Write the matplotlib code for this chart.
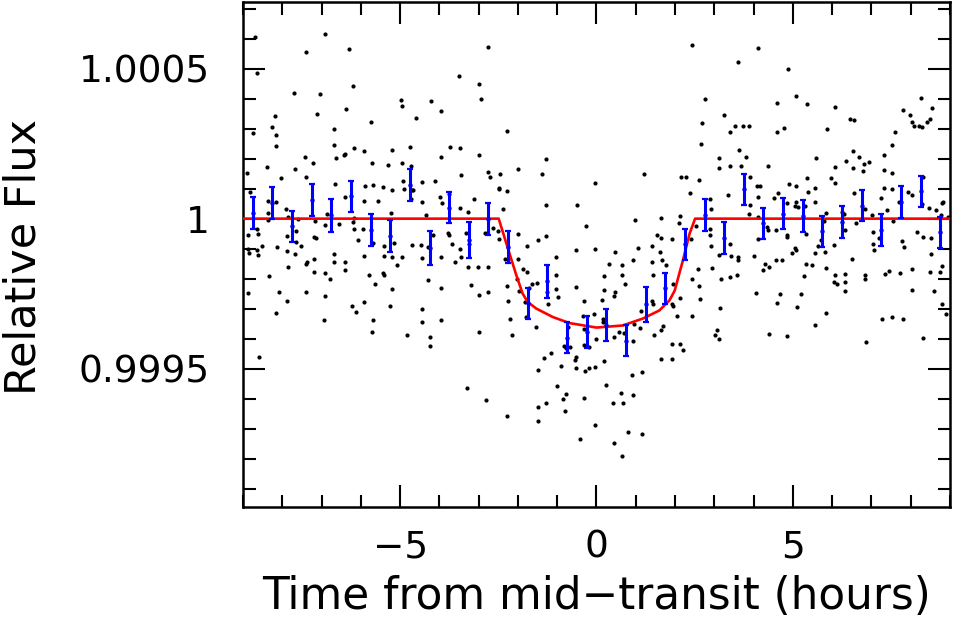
import numpy as np
import matplotlib
matplotlib.use("Agg")
import matplotlib.pyplot as plt
from matplotlib.ticker import MultipleLocator, FuncFormatter

# individual points: (time from mid-transit [h], relative flux - 1 [ppm])
pts_pre_high = [(-8.69,605),(-8.64,485),(-6.90,616),(-7.40,555),(-6.29,564),(-7.71,420),(-7.05,416),(-6.19,442),
    (-8.19,341),(-8.25,304),(-8.15,278),(-8.74,285),(-8.17,242),(-7.11,349),(-6.39,365),(-6.69,299),(-5.74,322),
    (-4.97,395),(-4.94,374),(-4.60,335),(-4.22,392),(-3.96,360),(-3.50,476),(-6.69,244),(-6.62,201),(-6.43,213),
    (-6.40,215),(-6.18,234),(-5.92,225),(-7.42,207),(-7.21,185),(-7.39,140),(-8.90,151),(-8.40,172),(-8.02,135),
    (-7.67,167),(-5.71,185),(-5.31,179),(-5.21,228),(-4.95,187),(-4.76,238),(-4.72,177),(-4.45,122),(-4.11,127),
    (-3.96,204),(-3.74,239),(-3.47,234),(-3.44,145),(-8.83,90),(-8.37,58),(-8.16,57),(-6.66,115),(-6.40,71),
    (-5.92,60),(-5.90,110),(-5.68,113),(-5.57,58),(-5.43,107),(-5.21,97),(-4.93,125),(-4.90,98),(-4.73,64),
    (-4.71,95),(-4.67,94),(-4.45,57),(-4.33,12),(-3.99,72),(-3.94,52),(-3.75,82),(-3.48,37),(-3.26,23),(-8.37,20),
    (-8.36,-6),(-7.91,31),(-7.86,4),(-7.60,0),(-6.87,15),(-6.18,2),(-5.22,20),(-7.17,-7),(-6.90,-22),(-6.55,-18),
    (-6.19,-12),(-6.18,-33),(-5.95,-33),(-7.89,-57),(-7.66,-42),(-7.66,-77),(-7.53,-90),(-7.18,-62),(-7.15,-66),
    (-6.07,-72),(-5.70,-80),(-5.41,-91),(-5.15,-80),(-4.71,-89),(-4.48,-89),(-4.17,-53),(-3.79,-47),(-3.75,-53),
    (-3.67,-85),(-3.47,-100),(-3.33,-47),(-3.25,-83),(-8.86,-56),(-8.63,-52),(-8.64,-36),(-8.51,-92),(-8.14,-94),
    (-8.86,-100),(-8.65,-103),(-3.96,-129),(-3.46,-128),(-4.28,-94)]

pts_pre_low = [(-8.85,-115),(-8.63,-121),(-7.88,-109),(-7.68,-117),(-6.68,-119),(-5.92,-126),(-5.42,-125),
    (-5.20,-127),(-4.94,-129),(-4.45,-130),(-3.61,-143),(-3.26,-161),(-3.02,-161),(-7.85,-161),(-7.39,-150),
    (-7.36,-146),(-7.18,-135),(-6.68,-146),(-6.41,-146),(-6.40,-170),(-7.18,-179),(-6.90,-180),(-6.78,-201),
    (-5.80,-187),(-5.43,-180),(-5.42,-189),(-5.09,-153),(-8.35,-191),(-8.86,-249),(-8.08,-245),(-7.87,-273),
    (-7.39,-245),(-6.90,-258),(-5.64,-217),(-5.21,-233),(-4.28,-203),(-3.96,-230),(-3.19,-222),(-2.99,-255),
    (-8.15,-313),(-6.93,-338),(-6.23,-290),(-6.12,-310),(-5.91,-279),(-5.70,-339),(-5.71,-379),(-5.25,-291),
    (-4.82,-387),(-4.43,-300),(-4.45,-343),(-4.23,-396),(-4.24,-426),(-3.96,-339),(-2.99,-378),(-8.58,-461),
    (-3.29,-563)]

pts_mid_high = [(-2.76,571),(-2.98,448),(-2.95,400),(-2.28,292),(-2.98,212),(-2.77,154),(-2.70,139),(-2.46,150),
    (-2.49,102),(-2.49,98),(-2.27,91),(-1.99,165),(-1.39,149),(-1.29,200),(-3.13,64),(-2.38,33),(-1.29,45),
    (-0.50,47),(-0.04,118),(-0.26,-25),(1.22,148),(2.42,579),(2.14,139),(2.27,139),(2.38,87),(1.65,3),(2.13,10),
    (2.10,-14),(0.97,-4),(-2.84,-47),(-2.63,-31),(-2.52,-42),(-2.49,-69),(-1.99,-52),(-1.29,-57),(-1.49,-72),
    (-1.77,-92),(-0.53,-103),(-0.04,-101),(0.48,-111),(1.06,-99),(1.42,-92),(1.55,-53),(1.65,-66),(1.92,-67),
    (2.41,-68),(2.54,-23)]

pts_mid_low = [(-2.77,-161),(-2.77,-245),(-2.32,-133),(-1.99,-133),(-1.88,-167),(-1.77,-178),(-2.27,-226),
    (-2.02,-200),(-1.98,-241),(-1.72,-230),(-1.65,-217),(-1.51,-216),(-1.83,-278),(-2.25,-275),(-1.79,-328),
    (-2.21,-333),(-1.54,-361),(-2.15,-389),(-1.02,-129),(-1.02,-189),(-1.02,-233),(-0.99,-261),(-1.26,-245),
    (-1.23,-283),(-0.53,-228),(-0.32,-276),(0.31,-150),(0.66,-153),(0.19,-191),(0.66,-188),(0.73,-217),
    (0.18,-237),(0.46,-246),(0.45,-258),(0.14,-272),(0.93,-137),(1.41,-145),(1.62,-111),(1.67,-137),(1.78,-155),
    (1.43,-189),(2.42,-202),(2.59,-167),(2.62,-225),(2.63,-268),(1.96,-217),(1.91,-283),(1.94,-290),(2.13,-263),
    (2.04,-326),(2.42,-325),(1.42,-275),(1.44,-283),(1.14,-308),(0.95,-352),(1.12,-363),(1.70,-357),(1.65,-370),
    (1.46,-387),(1.93,-417),(2.13,-419),(2.21,-437),(1.65,-468),(1.93,-468),(0.69,-381),(0.57,-378),(0.45,-395),
    (0.94,-408),(0.91,-521),(1.15,-512),(0.16,-333),(0.17,-345),(-0.07,-317),(-0.35,-326),(-0.31,-367),
    (-0.73,-361),(-0.82,-426),(-0.77,-430),(-0.67,-428),(-0.31,-422),(-0.20,-428),(-0.01,-400),(-0.52,-461),
    (-0.56,-472),(-0.53,-498),(-0.30,-508),(-0.20,-498),(-0.04,-496),(0.18,-476),(-0.90,-490),(-1.17,-448),
    (-1.33,-465),(-1.50,-506),(-1.01,-559),(-0.78,-583),(-0.85,-602),(-1.29,-613),(-1.50,-629),(-0.80,-641),
    (-1.50,-673),(-0.31,-599),(0.24,-553),(0.63,-580),(0.43,-616),(0.67,-616),(0.94,-589),(-0.04,-687),
    (-0.41,-733),(0.80,-711),(1.17,-719),(0.45,-748),(0.66,-792),(-2.27,-659),(-2.81,-606)]

pts_post_high = [(4.10,568),(3.61,522),(4.87,499),(2.75,398),(5.08,409),(5.35,381),(4.59,385),(6.06,372),
    (2.69,318),(3.25,347),(3.40,289),(3.52,308),(3.73,309),(3.89,308),(4.60,290),(4.78,303),(5.88,299),(6.46,333),
    (6.56,329),(7.80,362),(7.97,344),(8.26,403),(8.53,368),(8.49,332),(8.41,322),(8.22,308),(8.29,305),(8.02,321),
    (8.09,308),(7.60,290),(7.52,245),(7.31,212),(6.54,224),(6.68,206),(2.66,250),(3.63,230),(3.80,207),(3.11,201),
    (3.11,169),(3.40,175),(3.68,175),(4.37,177),(5.59,201),(6.07,172),(6.36,192),(6.54,170),(6.79,159),(6.82,183),
    (6.94,188),(7.31,163),(7.52,152),(2.62,128),(3.36,79),(3.91,139),(4.09,110),(4.17,110),(4.10,72),(4.61,85),
    (4.51,69),(4.89,115),(5.08,109),(5.35,135),(5.39,89),(5.57,103),(5.97,136),(6.07,120),(6.55,85),(7.31,102),
    (7.52,99),(7.94,90),(8.03,79),(8.30,139),(8.29,48),(8.47,37),(8.64,30),(8.79,53),(8.82,57),(8.94,5),(8.78,11),
    (7.71,55),(7.24,70),(2.89,64),(2.91,31),(3.90,44),(4.10,5),(3.88,14),(4.34,-29),(4.57,-37),(4.37,-39),
    (4.84,53),(5.14,38),(5.08,55),(5.06,42),(5.32,42),(5.56,55),(5.85,20),(5.78,-7),(6.24,21),(6.29,15),
    (6.61,-13),(6.83,33),(7.02,11),(7.39,30),(7.55,-8),(2.90,-33),(2.89,-56),(2.91,-91),(3.40,-86),(4.11,-69),
    (4.85,-55),(4.85,-61),(5.33,-50),(5.72,-72),(6.04,-89),(6.33,-39),(7.03,-45),(7.04,-83),(7.18,-63),
    (7.79,-76),(7.83,-96),(8.15,-45),(8.30,-60),(8.52,-65),(5.63,-91),(5.06,-98)]

pts_post_low = [(2.93,-165),(3.12,-121),(3.43,-125),(3.61,-127),(3.61,-138),(4.00,-125),(4.99,-115),(5.07,-106),
    (5.57,-116),(5.81,-111),(6.51,-136),(7.06,-106),(8.52,-117),(3.18,-201),(3.40,-193),(3.57,-189),(4.23,-172),
    (4.29,-150),(4.38,-162),(4.58,-138),(4.72,-138),(5.28,-190),(5.34,-152),(5.49,-156),(5.84,-166),(6.06,-187),
    (6.33,-183),(6.83,-188),(6.83,-201),(7.35,-185),(7.44,-176),(7.72,-180),(8.02,-167),(8.50,-179),(8.75,-177),
    (8.79,-159),(6.05,-211),(6.12,-218),(6.33,-211),(6.33,-241),(8.03,-238),(8.58,-240),(4.06,-247),(4.66,-250),
    (4.59,-280),(5.21,-252),(5.10,-295),(3.14,-299),(5.84,-316),(5.56,-356),(7.28,-336),(7.53,-329),(7.80,-335),
    (8.79,-286),(8.91,-318),(3.07,-371),(3.02,-388),(3.12,-400),(4.38,-383),(4.86,-392),(6.85,-410),(8.32,-399)]

# binned light curve (half-hour bins)
bin_time = [-8.75, -8.25, -7.75, -7.25, -6.75, -6.25, -5.75, -5.25, -4.75, -4.25, -3.75, -3.25,
            -2.75, -2.25, -1.75, -1.25, -0.75, -0.25, 0.25, 0.75, 1.25, 1.75, 2.25, 2.75,
            3.25, 3.75, 4.25, 4.75, 5.25, 5.75, 6.25, 6.75, 7.25, 7.75, 8.25, 8.75]
bin_ppm = [19, 52, -26, 61, 11, 74, -39, -59, 111, -97, 37, -71,
           0, -94, -282, -209, -397, -377, -355, -407, -286, -232, -86, 11,
           -64, 98, -15, 17, 9, -42, -11, 43, -38, 55, 91, -46]
bin_err = [53, 53, 53, 53, 56, 53, 53, 53, 53, 56, 51, 59,
           53, 53, 51, 55, 51, 53, 54, 52, 57, 52, 53, 53,
           53, 52, 52, 52, 52, 52, 52, 52, 53, 53, 52, 51]

# transit model
model_time = [-9.0, -2.49, -2.24, -2.04, -1.88, -1.75, -1.53, -1.11, -0.69, 0.0,
              0.67, 1.18, 1.60, 1.86, 1.99, 2.20, 2.37, 2.51, 9.0]
model_ppm = [0, 0, -106, -189, -250, -278, -300, -328, -348, -363,
             -356, -333, -306, -272, -240, -139, -50, 0, 0]

pts = np.array(pts_pre_high + pts_pre_low + pts_mid_high + pts_mid_low + pts_post_high + pts_post_low)
t = pts[:, 0]
flux = 1 + pts[:, 1] * 1e-6

plt.rcParams['font.family'] = ['DejaVu Sans']
fig = plt.figure(figsize=(9.54, 6.19), dpi=100)
ax = fig.add_axes([243/954, 1-507/619, 707/954, 505/619])

ax.scatter(t, flux, s=9, c='black', linewidths=0, zorder=2)
ax.plot(model_time, 1 + np.array(model_ppm)*1e-6, color='red', lw=1.9, zorder=3)
ax.errorbar(bin_time, 1 + np.array(bin_ppm)*1e-6, yerr=np.array(bin_err)*1e-6,
            fmt='o', ms=2.2, color='blue', ecolor='blue', elinewidth=2.2, capsize=2.2,
            capthick=1.6, zorder=4)

ax.set_xlim(-9, 9)
ax.set_ylim(0.999039, 1.000722)

ax.xaxis.set_major_locator(MultipleLocator(5))
ax.xaxis.set_minor_locator(MultipleLocator(1))
ax.yaxis.set_major_locator(MultipleLocator(0.0005))
ax.yaxis.set_minor_locator(MultipleLocator(0.0001))
ax.yaxis.set_major_formatter(FuncFormatter(lambda v, p: '%g' % round(v, 6)))

ax.tick_params(which='both', direction='in', top=True, right=True, width=1.5, color='black')
ax.tick_params(which='major', length=16)
ax.tick_params(which='minor', length=9)
ax.tick_params(axis='y', which='major', pad=24, labelsize=27)
ax.tick_params(axis='x', which='major', pad=16, labelsize=27)
for sp in ax.spines.values():
    sp.set_linewidth(1.8)

ax.set_xlabel('Time from mid\u2212transit (hours)', fontsize=31.5, va='baseline')
ax.set_ylabel('Relative Flux', fontsize=31, va='baseline')
ax.xaxis.set_label_coords(0.5, -0.202)
ax.yaxis.set_label_coords(-0.294, 0.496)

fig.savefig('out.png', dpi=100)
